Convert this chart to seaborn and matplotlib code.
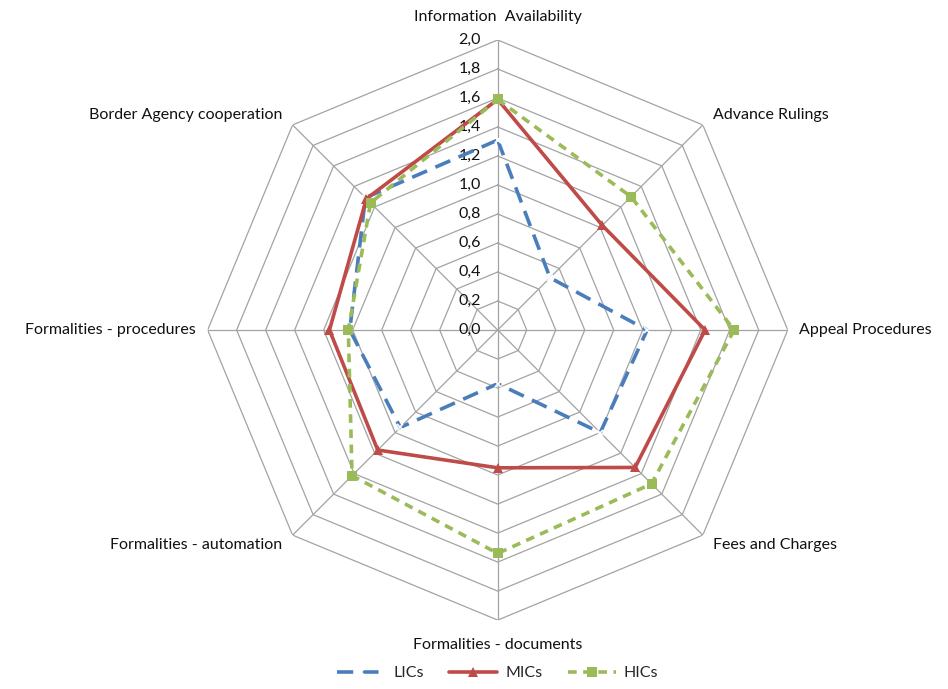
import numpy as np
import pandas as pd
import seaborn as sns
import matplotlib.pyplot as plt

# Data
categories = ["Information  Availability", "Advance Rulings", "Appeal Procedures",
              "Fees and Charges", "Formalities - documents", "Formalities - automation",
              "Formalities - procedures", "Border Agency cooperation"]
lics = [1.31, 0.51, 1.03, 1.00, 0.37, 0.95, 1.02, 1.29]
mics = [1.59, 1.02, 1.43, 1.34, 0.95, 1.17, 1.16, 1.28]
hics = [1.59, 1.30, 1.63, 1.50, 1.54, 1.42, 1.03, 1.24]
series_names = ["LICs", "MICs", "HICs"]
ring_levels = [0.2, 0.4, 0.6, 0.8, 1.0, 1.2, 1.4, 1.6, 1.8, 2.0]
tick_labels = ["0,0", "0,2", "0,4", "0,6", "0,8", "1,0", "1,2", "1,4", "1,6", "1,8", "2,0"]

sns.set_theme(style="white")
plt.rcParams["font.family"] = ["Lato", "DejaVu Sans"]

n = len(categories)
angles = np.linspace(0, 2 * np.pi, n, endpoint=False)
closed = np.append(angles, 2 * np.pi)

rows = []
for name, vals in zip(series_names, [lics, mics, hics]):
    for a, v in zip(closed, vals + vals[:1]):
        rows.append({"angle": a, "value": v, "series": name})
df = pd.DataFrame(rows)

fig = plt.figure(figsize=(9.48, 6.89), dpi=100)
ax = fig.add_axes([0.219, 0.100, 0.612, 0.842], projection="polar")
ax.set_theta_offset(np.pi / 2)
ax.set_theta_direction(-1)
ax.set_ylim(0, 2.0)
ax.grid(False)
ax.spines["polar"].set_visible(False)
ax.set_xticks([])
ax.set_yticks([])

# octagon grid rings and spokes
grid_col = "#a3a3a3"
for r in ring_levels:
    ax.plot(closed, [r] * len(closed), color=grid_col, lw=0.9, zorder=1)
for a in angles:
    ax.plot([a, a], [0, 2.0], color=grid_col, lw=0.9, zorder=1)

# radial tick labels along the top spoke
for r, lab in zip([0.0] + ring_levels, tick_labels):
    ax.annotate(lab, xy=(0, r), xytext=(-12, 0), textcoords="offset points",
                ha="right", va="center", fontsize=11.5, color="#111111")

styles = {
    "LICs": dict(color="#4a7ebb", linestyle=(0, (4.5, 2.5)), marker="x", markersize=4, mew=1.2),
    "MICs": dict(color="#be4b48", linestyle="-", marker="^", markersize=7, mew=0),
    "HICs": dict(color="#9bbb59", linestyle=(0, (2.4, 1.8)), marker="s", markersize=7, mew=0),
}
for name in series_names:
    sub = df[df["series"] == name]
    sns.lineplot(data=sub, x="angle", y="value", ax=ax, sort=False, estimator=None,
                 lw=2.6, label=name, zorder=3, **styles[name])

ax.set_xlabel("")
ax.set_ylabel("")
ax.set_ylim(0, 2.0)

# category labels
for a, lab in zip(angles, categories):
    deg = np.degrees(a)
    if deg == 0:
        ha, va, r = "center", "bottom", 2.11
    elif deg == 180:
        ha, va, r = "center", "top", 2.12
    elif deg < 180:
        ha, va, r = "left", "center", 2.08
    else:
        ha, va, r = "right", "center", 2.08
    if deg in (45, 135, 225, 315):
        r = 2.1
    ax.text(a, r, lab, ha=ha, va=va, fontsize=11.5, color="#111111")

ax.get_legend().remove()
handles, labels = ax.get_legend_handles_labels()
fig.legend(handles, labels, loc="lower center", bbox_to_anchor=(0.525, -0.008), ncol=3,
           frameon=False, fontsize=11.5, handlelength=3.0, handletextpad=0.5,
           columnspacing=1.6)

fig.savefig("out.png", dpi=100)
